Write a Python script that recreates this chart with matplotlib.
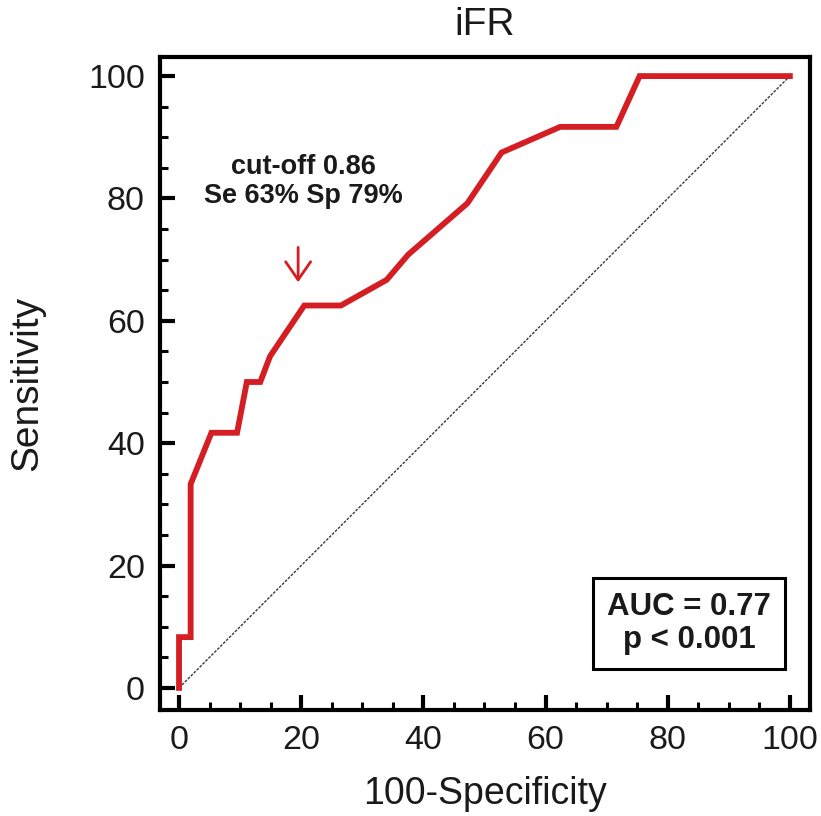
import numpy as np
import matplotlib.pyplot as plt
from matplotlib.ticker import MultipleLocator

plt.rcParams['font.family'] = ['Liberation Sans', 'DejaVu Sans']

# ROC curve points (100-Specificity, Sensitivity)
fpr = [0, 0, 1.9, 1.9, 5.3, 9.5, 11.1, 13.3, 14.9, 20.5, 26.5, 34.0, 37.5,
       47.2, 52.8, 62.4, 71.6, 75.4, 100]
tpr = [0, 8.3, 8.3, 33.3, 41.7, 41.7, 50, 50, 54.2, 62.5, 62.5, 66.7, 70.8,
       79.2, 87.5, 91.7, 91.7, 100, 100]

# reference diagonal
diag_x = [0, 100]
diag_y = [0, 100]

# cut-off point marked by the arrow
cut_x = 19.5
cut_y = 66.3
cut_label = 'cut-off 0.86\nSe 63% Sp 79%'
auc_label = 'AUC = 0.77\np < 0.001'

fig = plt.figure(figsize=(8.21, 8.16), dpi=100)
ax = fig.add_axes([0.195, 0.130, 0.7916, 0.800])

ax.plot(diag_x, diag_y, color='#3a3a3a', lw=1.0, linestyle=(0, (2, 1)))
ax.plot(fpr, tpr, color='#d41e24', lw=4.2, solid_joinstyle='miter')

# arrow and cut-off text
ax.annotate('', xy=(cut_x, cut_y), xytext=(cut_x, cut_y + 5.7),
            arrowprops=dict(arrowstyle='->,head_length=0.65,head_width=0.45',
                            color='#d41e24', lw=2, mutation_scale=20,
                            shrinkA=0, shrinkB=0))
ax.text(20.4, 82.7, cut_label, ha='center', va='center', fontsize=19.5,
        fontweight='bold', color='#1a1a1a', linespacing=1.15)

# AUC box
ax.text(83.5, 10.5, auc_label, ha='center', va='center', fontsize=22.5,
        fontweight='bold', color='#1a1a1a', linespacing=1.15,
        bbox=dict(boxstyle='square,pad=0.45', facecolor='white',
                  edgecolor='black', lw=2.2))

ax.set_xlim(-3.1, 103.3)
ax.set_ylim(-3.6, 103.1)
ax.xaxis.set_major_locator(MultipleLocator(20))
ax.xaxis.set_minor_locator(MultipleLocator(5))
ax.yaxis.set_major_locator(MultipleLocator(20))
ax.yaxis.set_minor_locator(MultipleLocator(5))

for s in ax.spines.values():
    s.set_linewidth(3)
ax.tick_params(which='major', direction='in', length=11, width=3,
               labelsize=24.5, pad=11, colors='black')
ax.tick_params(which='minor', direction='in', length=6, width=2.2)
for lbl in ax.get_xticklabels() + ax.get_yticklabels():
    lbl.set_color('#1a1a1a')

ax.set_xlabel('100-Specificity', fontsize=27, labelpad=14, color='#1a1a1a')
ax.set_ylabel('Sensitivity', fontsize=28, labelpad=31, color='#1a1a1a')
ax.set_title('iFR', fontsize=28, pad=16, color='#1a1a1a',
             family=['Liberation Sans Narrow', 'Liberation Sans'])

fig.savefig('out.png', dpi=100)
